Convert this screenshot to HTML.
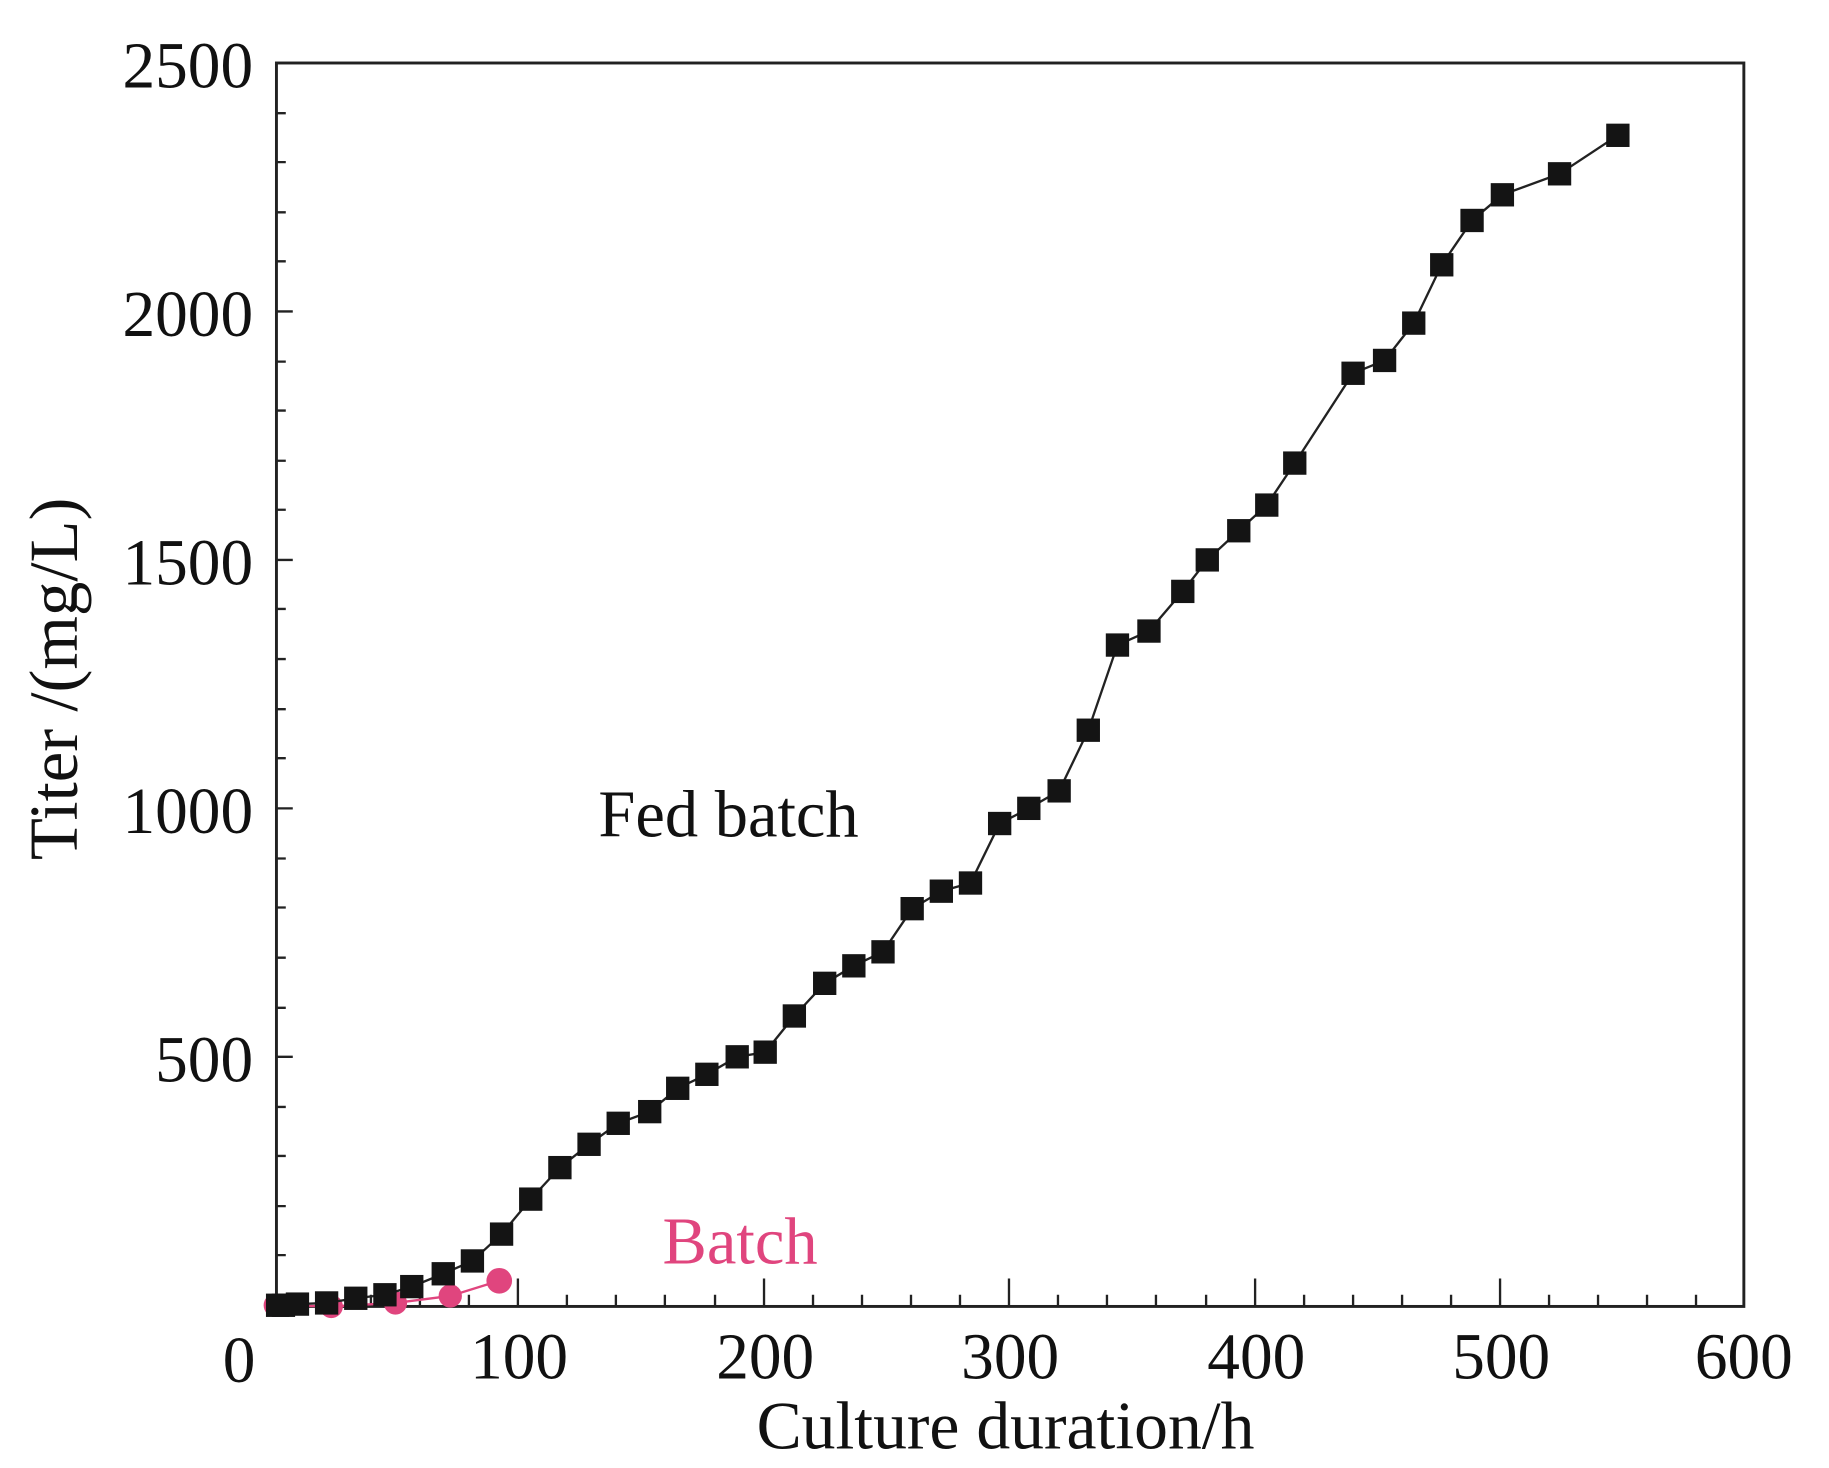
<!DOCTYPE html>
<html><head><style>html,body{margin:0;padding:0;background:#fff}svg{display:block}</style></head>
<body>
<svg width="1829" height="1468" viewBox="0 0 1568 1258.5" xmlns="http://www.w3.org/2000/svg" font-family="Liberation Serif, serif">
<rect x="237" y="54" width="1258" height="1066" fill="none" stroke="#222" stroke-width="2.5"/>
<g stroke="#222" stroke-width="2">
<path d="M276 1120v-10M318 1120v-10M360 1120v-10M402 1120v-10M444 1120v-24M486 1120v-10M528 1120v-10M570 1120v-10M613 1120v-10M655 1120v-24M697 1120v-10M739 1120v-10M781 1120v-10M823 1120v-10M865 1120v-24M907 1120v-10M949 1120v-10M991 1120v-10M1034 1120v-10M1076 1120v-24M1118 1120v-10M1160 1120v-10M1202 1120v-10M1244 1120v-10M1286 1120v-24M1328 1120v-10M1370 1120v-10M1412 1120v-10M1454 1120v-10"/>
<path d="M237 1076h8M237 1034h8M237 991h8M237 949h8M237 906h14M237 864h8M237 821h8M237 778h8M237 736h8M237 693h14M237 650h8M237 608h8M237 565h8M237 522h8M237 480h14M237 437h8M237 395h8M237 352h8M237 310h8M237 267h14M237 224h8M237 182h8M237 139h8M237 97h8"/>
</g>
<g font-size="56" fill="#111" text-anchor="end">
<text x="217" y="927">500</text>
<text x="217" y="714">1000</text>
<text x="217" y="501">1500</text>
<text x="217" y="288">2000</text>
<text x="217" y="75">2500</text>
</g>
<g font-size="56" fill="#111" text-anchor="middle">
<text x="205" y="1185">0</text>
<text x="445" y="1182">100</text>
<text x="656" y="1182">200</text>
<text x="866" y="1182">300</text>
<text x="1077" y="1182">400</text>
<text x="1287" y="1182">500</text>
<text x="1495" y="1182">600</text>
<text x="862" y="1242" font-size="58">Culture duration/h</text>
<text transform="translate(66,582) rotate(-90)" font-size="59">Titer /(mg/L)</text>
</g>
<text x="513" y="717" font-size="57" fill="#111">Fed batch</text>
<text x="568" y="1083" font-size="57" fill="#e0457e">Batch</text>
<g>
<polyline fill="none" stroke="#e0457e" stroke-width="2" points="236,1119 284,1120 339,1117 386,1111 428,1098"/>
<g fill="#e0457e"><circle cx="236" cy="1119" r="10"/><circle cx="284" cy="1120" r="10"/><circle cx="339" cy="1117" r="10"/><circle cx="386" cy="1111" r="10"/><circle cx="428" cy="1098" r="11"/></g>
</g>
<polyline id="fb" fill="none" stroke="#222" stroke-width="2" points="238,1119 243,1119 255,1118 280,1117 305,1113 330,1110 353,1103 380,1092 405,1081 430,1058 455,1028 480,1001 505,981 530,963 557,953 581,933 606,921 632,906 656,902 681,871 707,843 732,828 757,816 782,779 807,764 832,757 857,706 882,693 908,678 933,626 958,553 985,541 1014,507 1035,480 1062,455 1086,433 1110,397 1160,320 1187,309 1212,277 1236,227 1262,189 1288,167 1337,149 1387,116"/>
<g fill="#141414" id="sq"></g>
<script>
var p=document.getElementById('fb').getAttribute('points').trim().split(/\s+/),g=document.getElementById('sq');
p.forEach(function(s){var a=s.split(',');var r=document.createElementNS('http://www.w3.org/2000/svg','rect');r.setAttribute('x',a[0]-10);r.setAttribute('y',a[1]-10);r.setAttribute('width',20);r.setAttribute('height',20);g.appendChild(r);});
</script>
</svg>
</body></html>
